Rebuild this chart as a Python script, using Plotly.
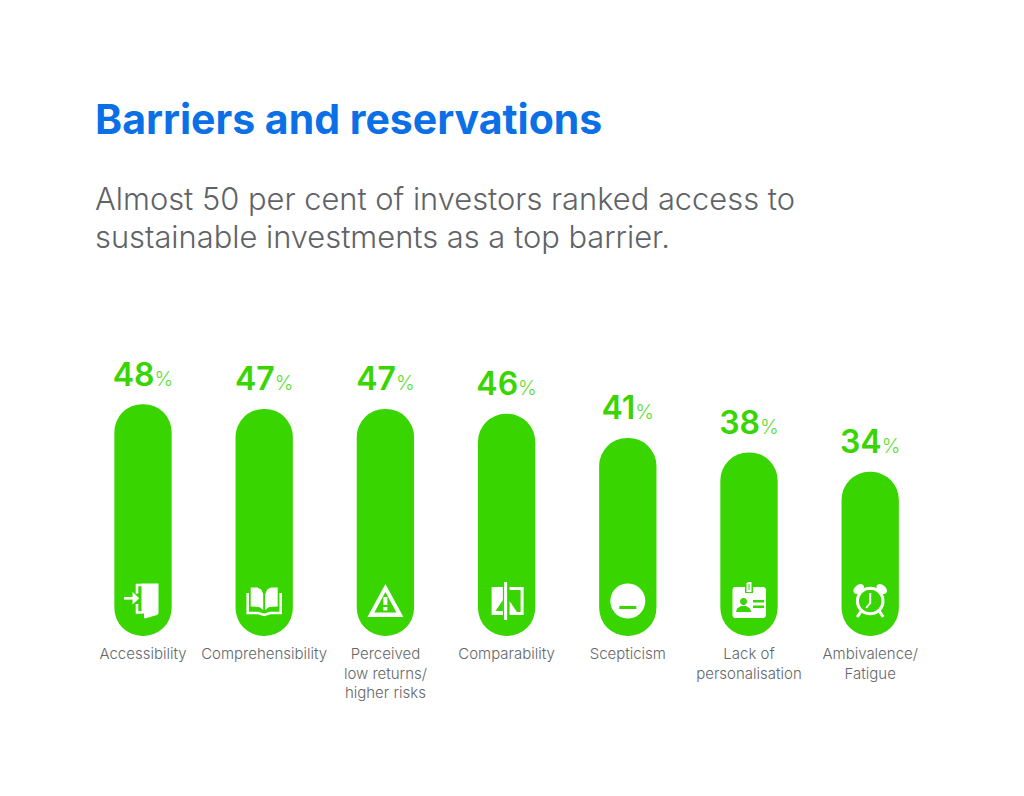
import numpy as np
import plotly.graph_objects as go

categories = ["Accessibility", "Comprehensibility", "Perceived<br>low returns/<br>higher risks",
              "Comparability", "Scepticism", "Lack of<br>personalisation", "Ambivalence/<br>Fatigue"]
values = [48, 47, 47, 46, 41, 38, 34]
TITLE = "Barriers and reservations"
SUB1 = "Almost 50 per cent of investors ranked access to"
SUB2 = "sustainable investments as a top barrier."

GREEN = "#38D500"
BLUE = "#0B6FE6"
GRAY = "#5F6368"
LABEL = "#63676A"
FONT = "Inter"

W, H = 1024, 796
PLOT_TOP, PLOT_BOTTOM = 340, 636
PX_PER_UNIT = 4.83
X0, STEP = 143.0, 121.2

x = list(range(len(categories)))
fig = go.Figure()
# a bar with an explicit base is rounded at both ends
fig.add_bar(x=x, base=[0] * len(values), y=values, marker_color=GREEN,
            width=0.473, hoverinfo="skip", marker_line_width=0)
labels = [f"<span style='font-size:32px;font-weight:600'>{v}</span>"
          f"<span style='font-size:20px;font-weight:300;fill:#5FDD38'>%</span>" for v in values]
fig.add_scatter(x=x, y=[v + 2.2 for v in values], mode="text", text=labels, textposition="top center",
                textfont=dict(family=FONT, color=GREEN, size=32), hoverinfo="skip", cliponaxis=False)


def shape_path(points, close=True):
    s = "M" + " L".join(f"{px:.2f},{-py:.2f}" for px, py in points)
    return s + (" Z" if close else "")


def circle(cx, cy, r, n=36):
    t = np.linspace(0, 2 * np.pi, n, endpoint=False)
    return [(cx + r * np.cos(a), cy + r * np.sin(a)) for a in t]


def ellipse(cx, cy, rx, ry, rot=0.0, n=28):
    t = np.linspace(0, 2 * np.pi, n, endpoint=False)
    c, s = np.cos(rot), np.sin(rot)
    return [(cx + rx * np.cos(a) * c - ry * np.sin(a) * s, cy + rx * np.cos(a) * s + ry * np.sin(a) * c) for a in t]


def rect(x0, y0, x1, y1):
    return [(x0, y0), (x1, y0), (x1, y1), (x0, y1)]


shapes = []
ICON_UP = 36  # px above the zero line; points below are y-down offsets from the icon centre


def fill(i, pts, color="white"):
    shapes.append(dict(type="path", xref="x", yref="y", xsizemode="pixel", ysizemode="pixel",
                       xanchor=i, yanchor=0, path=shape_path([(p[0], p[1] - ICON_UP) for p in pts]),
                       fillcolor=color, line_width=0, layer="above"))


def stroke(i, pts, width, color="white"):
    shapes.append(dict(type="path", xref="x", yref="y", xsizemode="pixel", ysizemode="pixel",
                       xanchor=i, yanchor=0, path=shape_path([(p[0], p[1] - ICON_UP) for p in pts], close=False),
                       line=dict(color=color, width=width), fillcolor="rgba(0,0,0,0)", layer="above"))


# 0 door
fill(0, [(-1.5, -16.5), (15.5, -16.5), (15.5, 13.5), (14, 15), (2, 18.5), (1, 18), (1, 13.5), (-1.5, 13.5)])
stroke(0, [(-6, -6.5), (-6, -15), (-1, -15)], 2.6)
stroke(0, [(-6, 4), (-6, 12.5), (-1, 12.5)], 2.6)
stroke(0, [(-19, -1.7), (-8, -1.7)], 2.6)
fill(0, [(-10.5, -8), (-3.7, -1.7), (-10.5, 4.6)])
# 1 book
fill(1, [(-13.5, -12.5), (-7, -12.5), (-3, -10.5), (-1, -6), (-1, 10), (-5, 7), (-13.5, 6.5)])
fill(1, [(13.5, -12.5), (7, -12.5), (3, -10.5), (1, -6), (1, 10), (5, 7), (13.5, 6.5)])
stroke(1, [(-16.5, -7), (-16.5, 13), (-6, 13), (0, 15), (6, 13), (16.5, 13), (16.5, -7)], 2.5)
# 2 warning
fill(2, [(0, -16), (18, 17), (-18, 17)])
fill(2, [(0, -8), (11, 12.5), (-11, 12.5)], GREEN)
fill(2, rect(-2, -3, 2, 5))
fill(2, rect(-2, 7, 2, 10.5))
# 3 comparability
fill(3, rect(-15, -13, -3.7, 15))
fill(3, [(-3.7, 0), (-3.7, 11), (-11, 11)], GREEN)
stroke(3, [(-1, -18), (-1, 20)], 3)
stroke(3, [(3, -11.5), (15.5, -11.5), (15.5, 13.5), (3, 13.5)], 3)
fill(3, [(3, 13), (3, 1), (11, 13)])
# 4 minus
fill(4, circle(0, 1, 17.5))
fill(4, rect(-8.5, 6, 8.5, 9), GREEN)
# 5 badge
fill(5, [(-16.5, -11), (-15, -13), (15, -13), (17, -11), (17, 16), (15, 18), (-15, 18), (-16.5, 16)])
fill(5, rect(-4, -16, 4, -7), GREEN)
stroke(5, [(-1.5, -17), (-1.5, -9), (1.5, -9), (1.5, -17), (-1.5, -17)], 2)
fill(5, circle(-5.5, 1.5, 3.5), GREEN)
fill(5, [(-13, 12), (-12, 8.5), (-8, 6), (-3, 6), (1, 8.5), (2.5, 12)], GREEN)
fill(5, rect(4, 0, 15, 2.5), GREEN)
fill(5, rect(4, 5.5, 15, 8), GREEN)
# 6 clock
fill(6, ellipse(-11.5, -11, 6, 4, -0.7))
fill(6, ellipse(11.5, -11, 6, 4, 0.7))
stroke(6, circle(0, 1, 12.8) + [circle(0, 1, 12.8)[0]], 3)
stroke(6, [(0, -7), (0, 3), (-4, 8)], 2)
stroke(6, [(-9, 11), (-13, 17)], 3)
stroke(6, [(9, 11), (13, 17)], 3)

ph = PLOT_BOTTOM - PLOT_TOP


def page_text(text, px, py, font):
    return dict(text=text, xref="paper", yref="paper", x=px / W, y=(PLOT_BOTTOM - py) / ph,
                xanchor="left", yanchor="middle", showarrow=False, font=font)


annotations = [
    page_text(f"<span style='font-weight:700'>{TITLE}</span>", 93, 119, dict(family=FONT, size=41, color=BLUE)),
    page_text(SUB1, 93, 198.5, dict(family=FONT, size=30.85, color=GRAY, weight=300)),
    page_text(SUB2, 93, 236.5, dict(family=FONT, size=30.85, color=GRAY, weight=300)),
]

fig.update_layout(
    width=W, height=H, autosize=False, barmode="overlay", barcornerradius="50%", showlegend=False,
    plot_bgcolor="white", paper_bgcolor="white",
    margin=dict(l=0, r=0, t=PLOT_TOP, b=H - PLOT_BOTTOM),
    shapes=shapes, annotations=annotations,
)
fig.update_xaxes(range=[-X0 / STEP, (W - X0) / STEP], tickmode="array", tickvals=x, ticktext=categories,
                 ticks="outside", ticklen=4, tickcolor="rgba(0,0,0,0)", showline=False, showgrid=False,
                 zeroline=False, tickangle=0, automargin=False,
                 tickfont=dict(family=FONT, size=15, color=LABEL, weight=300))
fig.update_yaxes(range=[0, ph / PX_PER_UNIT], visible=False, showgrid=False, zeroline=False)
fig.write_html("out.html", post_script="document.body.style.margin='0';", config=dict(displayModeBar=False))
